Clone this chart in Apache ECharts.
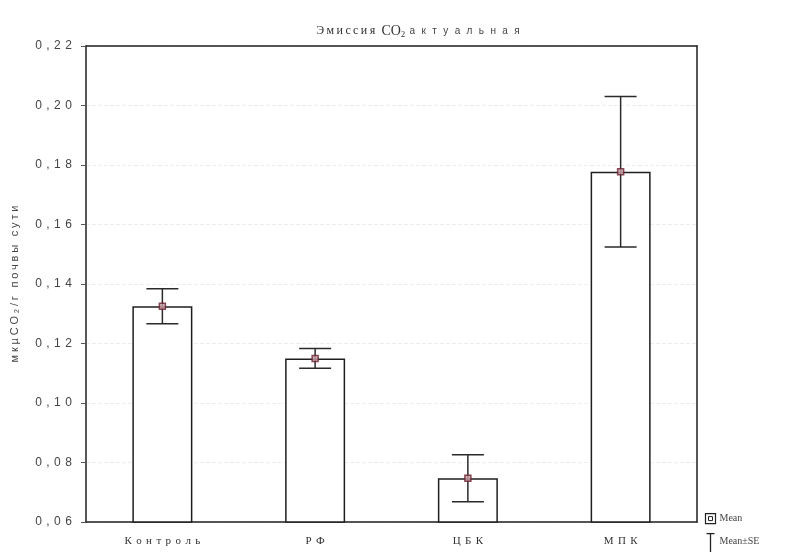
<!DOCTYPE html>
<html>
<head>
<meta charset="utf-8">
<script src="https://cdn.jsdelivr.net/npm/echarts@6/dist/echarts.min.js"></script>
<style>
  html, body { margin: 0; padding: 0; background: #ffffff; }
  #chart { width: 808px; height: 552px; }
</style>
</head>
<body>
<div id="chart"></div>
<script>
// Emission data: group names, mean values and standard errors
const categories = ['Контроль', 'РФ', 'ЦБК', 'МПК'];
const means = [0.1325, 0.115, 0.0747, 0.1777];
const stdErrors = [0.0059, 0.0033, 0.0079, 0.0253];
// value axis range and step
const yMin = 0.06;
const yMax = 0.22;
const yStep = 0.02;

const serif = '"Liberation Serif", "DejaVu Serif", serif';
const sans = '"Liberation Sans", Arial, sans-serif';
const lineColor = '#1f1f1f';

// Wrap every character in its own rich-text token so the text gets letter spacing
function spaced(str, style) {
  return str.split('').map(ch => '{' + style + '|' + ch + '}').join('');
}

const errorData = means.map((m, i) => [i, m - stdErrors[i], m + stdErrors[i]]);

const chart = echarts.init(document.getElementById('chart'), null, { renderer: 'canvas' });

chart.setOption({
  animation: false,
  backgroundColor: '#ffffff',
  title: {
    text: spaced('Эмиссия', 'a') + ' {co|CO}{s|2}' + spaced('актуальная', 'b'),
    left: 414,
    top: 17,
    textAlign: 'center',
    textStyle: {
      rich: {
        a: { fontFamily: serif, fontSize: 12, fontWeight: 'normal', color: '#333', padding: [0, 1.2, 0, 1.2] },
        co: { fontFamily: serif, fontSize: 14, fontWeight: 'normal', color: '#333' },
        s: { fontFamily: serif, fontSize: 9, fontWeight: 'normal', color: '#333', padding: [7, 1, 0, 0] },
        b: { fontFamily: sans, fontSize: 10, fontWeight: 'normal', color: '#444', padding: [0, 3.2, 0, 3.2] }
      }
    }
  },
  grid: {
    left: 86,
    right: 111,
    top: 46,
    bottom: 30,
    containLabel: false,
    outerBoundsMode: 'none'
  },
  xAxis: [
    {
      type: 'category',
      data: categories,
      axisLine: { show: true, lineStyle: { color: lineColor, width: 1.5 } },
      axisTick: { show: true, inside: true, alignWithLabel: true, length: 4, lineStyle: { color: lineColor } },
      axisLabel: {
        interval: 0,
        margin: 14,
        formatter: v => spaced(v, 'c'),
        rich: { c: { fontFamily: serif, fontSize: 11, color: '#333', padding: [0, 2.2, 0, 2.2] } }
      },
      splitLine: { show: false }
    },
    {
      type: 'category',
      position: 'top',
      data: categories,
      axisLine: { show: true, lineStyle: { color: lineColor, width: 1.5 } },
      axisTick: { show: false },
      axisLabel: { show: false }
    }
  ],
  yAxis: [
    {
      type: 'value',
      min: yMin,
      max: yMax,
      interval: yStep,
      name: spaced('мкµCO₂/г почвы сути', 'n'),
      nameLocation: 'middle',
      nameGap: 66,
      nameTextStyle: {
        rich: { n: { fontFamily: sans, fontSize: 11, color: '#444', padding: [0, 1.4, 0, 1.4] } }
      },
      axisLine: { show: true, lineStyle: { color: lineColor, width: 1.5 } },
      axisTick: { show: true, length: 5, lineStyle: { color: '#555' } },
      axisLabel: {
        margin: 12,
        formatter: v => spaced(v.toFixed(2).replace('.', ','), 'y'),
        rich: { y: { fontFamily: sans, fontSize: 12, color: '#444', padding: [0, 2.2, 0, 2.2] } }
      },
      splitLine: { show: true, lineStyle: { color: '#eeeeee', width: 1, type: 'dashed' } }
    },
    {
      type: 'value',
      position: 'right',
      min: yMin,
      max: yMax,
      interval: yStep,
      axisLine: { show: true, lineStyle: { color: lineColor, width: 1.5 } },
      axisTick: { show: false },
      axisLabel: { show: false },
      splitLine: { show: false }
    }
  ],
  series: [
    {
      name: 'Mean',
      type: 'bar',
      data: means,
      barWidth: 60,
      itemStyle: { color: '#ffffff', borderColor: lineColor, borderWidth: 1.5 },
      z: 2
    },
    {
      name: 'Mean±SE',
      type: 'custom',
      data: errorData,
      z: 3,
      renderItem: (params, api) => {
        const x = api.value(0);
        const lo = api.coord([x, api.value(1)]);
        const hi = api.coord([x, api.value(2)]);
        const half = 16;
        const style = { stroke: '#2a2a2a', lineWidth: 1.5 };
        return {
          type: 'group',
          children: [
            { type: 'line', shape: { x1: lo[0], y1: lo[1], x2: hi[0], y2: hi[1] }, style },
            { type: 'line', shape: { x1: hi[0] - half, y1: hi[1], x2: hi[0] + half, y2: hi[1] }, style },
            { type: 'line', shape: { x1: lo[0] - half, y1: lo[1], x2: lo[0] + half, y2: lo[1] }, style }
          ]
        };
      }
    },
    {
      name: 'Mean marker',
      type: 'scatter',
      data: means.map((m, i) => [i, m]),
      symbol: 'rect',
      symbolSize: 6,
      itemStyle: { color: '#c9a0a8', borderColor: '#6b1f2e', borderWidth: 1.5 },
      z: 4
    }
  ],
  graphic: [
    {
      type: 'group',
      left: 704,
      top: 513,
      children: [
        { type: 'rect', shape: { x: 0, y: 0, width: 10, height: 10 }, style: { fill: '#fff', stroke: '#222', lineWidth: 1.2 } },
        { type: 'rect', shape: { x: 3, y: 3, width: 4, height: 4 }, style: { fill: '#fff', stroke: '#222', lineWidth: 1 } },
        { type: 'text', x: 14, y: 0, style: { text: 'Mean', font: '10px ' + serif, fill: '#444' } },
        { type: 'line', shape: { x1: 1, y1: 20, x2: 9, y2: 20 }, style: { stroke: '#222', lineWidth: 1.3 } },
        { type: 'line', shape: { x1: 5, y1: 20, x2: 5, y2: 40 }, style: { stroke: '#222', lineWidth: 1.3 } },
        { type: 'text', x: 14, y: 23, style: { text: 'Mean±SE', font: '10px ' + serif, fill: '#444' } }
      ]
    }
  ]
});
</script>
</body>
</html>
